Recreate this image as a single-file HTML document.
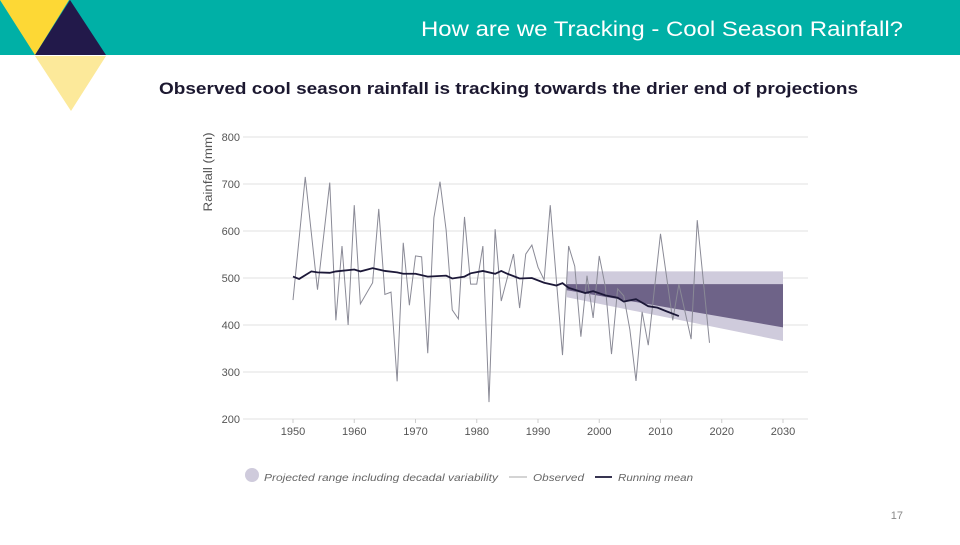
<!DOCTYPE html>
<html><head><meta charset="utf-8"><style>
body{margin:0;width:960px;height:540px;overflow:hidden;background:#fff;font-family:"Liberation Sans",sans-serif}
</style></head><body>
<svg width="960" height="540" xmlns="http://www.w3.org/2000/svg">
<rect x="0" y="0" width="960" height="55" fill="#00b0a6"/>
<polygon points="0,0 69,0 35,55" fill="#fdd835"/>
<polygon points="70,0 106,55 35,55" fill="#22194a"/>
<polygon points="35,56 106,56 71,111" fill="#fce99a"/>
<text x="421" y="36" font-size="21" fill="#fff" textLength="482" lengthAdjust="spacingAndGlyphs">How are we Tracking - Cool Season Rainfall?</text>
<text x="159" y="94" font-size="17" font-weight="bold" fill="#1c1830" textLength="699" lengthAdjust="spacingAndGlyphs">Observed cool season rainfall is tracking towards the drier end of projections</text>
<g id="chart"></g>
<text x="903" y="519" text-anchor="end" font-size="11" fill="#888">17</text>
</svg>
<script>
const yTicks=[200,300,400,500,600,700,800];
const xTicks=[1950,1960,1970,1980,1990,2000,2010,2020,2030];
const obsYears=[1950,1952,1954,1956,1957,1958,1959,1960,1961,1963,1964,1965,1966,1967,1968,1969,1970,1971,1972,1973,1974,1975,1976,1977,1978,1979,1980,1981,1982,1983,1984,1986,1987,1988,1989,1990,1991,1992,1994,1995,1996,1997,1998,1999,2000,2001,2002,2003,2004,2005,2006,2007,2008,2010,2012,2013,2015,2016,2018];
const obsValues=[453,715,475,703,410,568,400,655,445,490,647,465,470,280,575,442,547,545,340,628,705,602,432,413,630,487,487,568,236,604,451,551,436,551,570,523,496,655,336,568,525,375,505,415,547,481,338,477,462,390,281,428,357,594,410,487,370,623,362];
const meanYears=[1950,1951,1953,1954,1956,1957,1960,1961,1963,1965,1967,1968,1970,1972,1975,1976,1978,1979,1981,1983,1984,1985,1987,1989,1991,1993,1994,1995,1997.7,1999,2001,2003,2004,2006,2008,2009.5,2011,2013];
const meanValues=[503,498,514,512,511,514,518,514,521,515,512,509,509,503,505,499,503,510,515,509,515,509,499,500,490,484,489,479,468,472,463,458,450,455,440,437,429,419];
const projYears=[1994.7,2030];
const lightTop=[514,514];
const lightBottom=[459,366];
const darkTop=[487,487];
const darkBottom=[474,395];

const NS="http://www.w3.org/2000/svg";
const g=document.getElementById('chart');
const X=y=>293+(y-1950)*6.125;
const Y=v=>278-(v-500)*0.47;
function mk(t,a){const e=document.createElementNS(NS,t);for(const k in a)e.setAttribute(k,a[k]);g.appendChild(e);return e;}
yTicks.forEach(v=>{
 const l=mk('line',{x1:243,x2:808,y1:Y(v),y2:Y(v),stroke:'#e2e2e2','stroke-width':1});
 
 
 const t=mk('text',{x:240,y:Y(v)+4,'text-anchor':'end','font-size':11,fill:'#555'});t.textContent=v;
 
 
});
xTicks.forEach(v=>{
 const l=mk('line',{x1:X(v),x2:X(v),y1:419,y2:423,stroke:'#ccc'});
 
 
 const t=mk('text',{x:X(v),y:435,'text-anchor':'middle','font-size':11,fill:'#555'});t.textContent=v;
 
 
});
const yt=mk('text',{x:0,y:0,transform:'translate(212,172) rotate(-90)','text-anchor':'middle','font-size':11.5,fill:'#555',textLength:79,lengthAdjust:'spacingAndGlyphs'});yt.textContent='Rainfall (mm)';


const band=(top,bot,fill,name)=>{
 const p=mk('polygon',{points:`${X(projYears[0])},${Y(top[0])} ${X(projYears[1])},${Y(top[1])} ${X(projYears[1])},${Y(bot[1])} ${X(projYears[0])},${Y(bot[0])}`,fill:fill});
 
 
};
band(lightTop,lightBottom,'#cfcbdc','projected-range-band');
band(darkTop,darkBottom,'#6e6388','projected-core-band');
const obs=mk('polyline',{points:obsYears.map((y,i)=>X(y)+','+Y(obsValues[i])).join(' '),fill:'none',stroke:'#8a8a96','stroke-width':1});


const mean=mk('polyline',{points:meanYears.map((y,i)=>X(y)+','+Y(meanValues[i])).join(' '),fill:'none',stroke:'#1c1838','stroke-width':1.8});


const c=mk('circle',{cx:252,cy:475,r:7,fill:'#cfcbdc'});


const t1=mk('text',{x:264,y:481,'font-size':10.5,'font-style':'italic',fill:'#666',textLength:234,lengthAdjust:'spacingAndGlyphs'});t1.textContent='Projected range including decadal variability';


const l1=mk('line',{x1:509,x2:527,y1:477,y2:477,stroke:'#aaa'});


const t2=mk('text',{x:533,y:481,'font-size':10.5,'font-style':'italic',fill:'#666',textLength:51,lengthAdjust:'spacingAndGlyphs'});t2.textContent='Observed';


const l2=mk('line',{x1:595,x2:612,y1:477,y2:477,stroke:'#1c1838','stroke-width':1.8});


const t3=mk('text',{x:618,y:481,'font-size':10.5,'font-style':'italic',fill:'#666',textLength:75,lengthAdjust:'spacingAndGlyphs'});t3.textContent='Running mean';


</script>
</body></html>
